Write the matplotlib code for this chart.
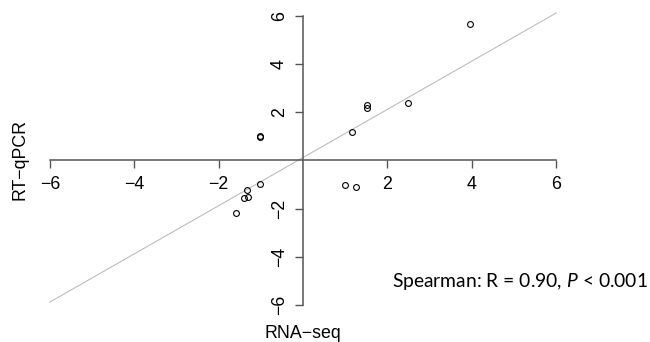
import numpy as np
import matplotlib
matplotlib.use('Agg')
import matplotlib.pyplot as plt

# log2 fold changes, RNA-seq vs RT-qPCR
rna_seq = [3.96, 2.49, 1.51, 1.52, 1.16, -1.03, -1.02, -1.02, 1.00, 1.26, -1.33, -1.41, -1.30, -1.59]
rt_qpcr = [5.66, 2.39, 2.28, 2.17, 1.19, 0.99, 1.00, -0.99, -1.02, -1.09, -1.23, -1.55, -1.51, -2.17]

# fitted line
fit_intercept = 0.12
fit_slope = 1.0
fit_range = [-6, 6]

ticks = [-6, -4, -2, 2, 4, 6]
stat_text = 'Spearman: R = 0.90, $\\mathit{P}$ < 0.001'

plt.rcParams['font.family'] = ['Liberation Sans', 'DejaVu Sans']
plt.rcParams['mathtext.fontset'] = 'custom'
plt.rcParams['mathtext.rm'] = 'Lato'
plt.rcParams['mathtext.it'] = 'Lato:italic'

fig = plt.figure(figsize=(6.5, 3.42), dpi=100)
ax = fig.add_axes([0, 0, 1, 1])
ax.set_xlim(-7.18, 8.22)
ax.set_ylim(-7.535, 6.656)

axis_col = '#555555'
for side in ['top', 'right']:
    ax.spines[side].set_visible(False)
for side in ['left', 'bottom']:
    ax.spines[side].set_position(('data', 0))
    ax.spines[side].set_bounds(-6, 6)
    ax.spines[side].set_color(axis_col)
    ax.spines[side].set_linewidth(1.1)

ax.set_xticks(ticks)
ax.set_yticks(ticks)
ax.tick_params(axis='both', direction='out', length=5.5, width=1.0, color=axis_col,
               labelsize=12.8, pad=5.5)
ax.tick_params(axis='y', labelrotation=90)
for lab in ax.get_yticklabels():
    lab.set_va('center')

xs = np.array(fit_range)
ax.plot(xs, fit_intercept + fit_slope * xs, color='#bdbdbd', lw=0.8, zorder=1)
ax.plot(rna_seq, rt_qpcr, 'o', mfc='none', mec='black', ms=4.2, mew=0.8, zorder=3)

fig.text(303 / 650, 1 - 333 / 342, 'RNA\u2212seq', ha='center', va='center', fontsize=12.8)
fig.text(20 / 650, 1 - 160 / 342, 'RT\u2212qPCR', ha='center', va='center', fontsize=12.8,
         rotation=90)
fig.text(392 / 650, 1 - 281 / 342, stat_text, ha='left', va='center', fontsize=13.9,
         family='Lato')

plt.savefig('out.png', dpi=100)
